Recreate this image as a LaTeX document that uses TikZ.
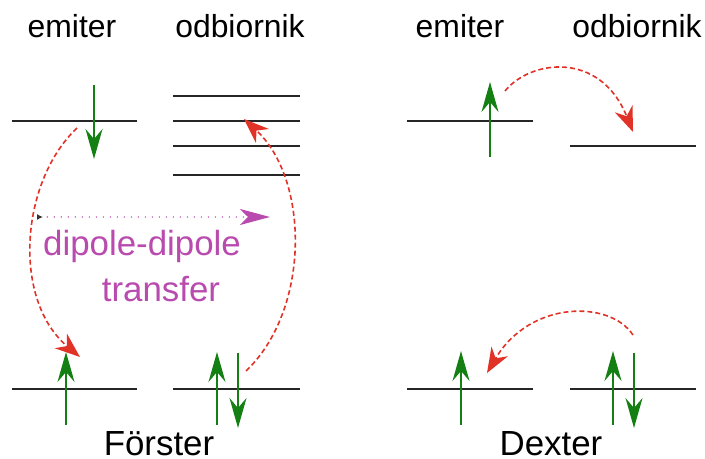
\documentclass[tikz,border=0pt]{standalone}
\usepackage{fontspec}
\setmainfont{Liberation Sans}
\usetikzlibrary{arrows.meta}
\definecolor{spingreen}{RGB}{20,128,20}
\definecolor{hopred}{RGB}{225,50,40}
\definecolor{dipmag}{RGB}{185,75,175}
\tikzset{
  level/.style={line width=1.1bp, black!85},
  spin/.style={line width=0.9bp, spingreen, -{Stealth[length=15bp,width=8.5bp,inset=5bp]}},
  hop/.style={line width=0.8bp, hopred, dash pattern=on 2.5bp off 1.5bp,
    -{Stealth[length=12.5bp,width=9.5bp,inset=4bp]}},
  dip/.style={line width=0.8bp, dipmag, line cap=round, dash pattern=on 0bp off 3.5bp,
    {Latex[reversed,length=3bp,width=3bp,color=black!80]}-{Stealth[length=15bp,width=8bp,inset=4bp]}},
  head/.style={font=\fontsize{16}{19}\selectfont, anchor=base, inner sep=0pt},
  big/.style={font=\fontsize{17.5}{21}\selectfont, anchor=base, inner sep=0pt},
}
\begin{document}
\begin{tikzpicture}[x=0.5bp,y=-0.5bp]
  \useasboundingbox (0,0) rectangle (705,459);
  % column headers
  \node[head] (emL) at (72,38) {emiter};
  \node[head] (odL) at (240,38) {odbiornik};
  \node[head] (emR) at (460,38) {emiter};
  \node[head] (odR) at (637,38) {odbiornik};

  % Forster: levels
  \draw[level] (12,121) -- (137,121);
  \draw[level] (12,389) -- (137,389);
  \foreach \y in {96,121,146,175}
    \draw[level] (173,\y) -- (300,\y);
  \draw[level] (173,389) -- (300,389);
  % Forster: spins
  \draw[spin] (94,85) -- (94,159);
  \draw[spin] (66,425) -- (66,352);
  \draw[spin] (217,425) -- (217,352);
  \draw[spin] (238,353) -- (238,428);
  % Forster: transfer
  \coordinate (eU) at (77,128);
  \coordinate (eL) at (80,357);
  \coordinate (aL) at (246,371);
  \coordinate (aU) at (244,119);
  \draw[hop] (eU) .. controls (20,182) and (12,300) .. (eL);
  \draw[hop] (aL) .. controls (310,310) and (310,180) .. (aU);
  \coordinate (dipA) at (37,217);
  \coordinate (dipB) at (270,217);
  \draw[dip] (dipA) -- (dipB);
  \node[big, dipmag] (dipT) at (142,256) {dipole-dipole};
  \node[big, dipmag] (trT) at (161,302) {transfer};
  \node[big] (forster) at (159,456) {Förster};

  % Dexter: levels
  \draw[level] (407,121) -- (533,121);
  \draw[level] (570,146) -- (696,146);
  \draw[level] (407,389) -- (533,389);
  \draw[level] (570,389) -- (696,389);
  % Dexter: spins
  \draw[spin] (490,157) -- (490,82);
  \draw[spin] (461,425) -- (461,351);
  \draw[spin] (613,425) -- (613,351);
  \draw[spin] (634,353) -- (634,428);
  % Dexter: exchange
  \coordinate (xU) at (505,91);
  \coordinate (xA) at (633,132);
  \coordinate (xB) at (633,335);
  \coordinate (xE) at (487,373);
  \draw[hop] (xU) .. controls (530,60) and (600,50) .. (xA);
  \draw[hop] (xB) .. controls (610,300) and (530,300) .. (xE);
  \node[big] (dexter) at (551,456) {Dexter};
\end{tikzpicture}
\end{document}
